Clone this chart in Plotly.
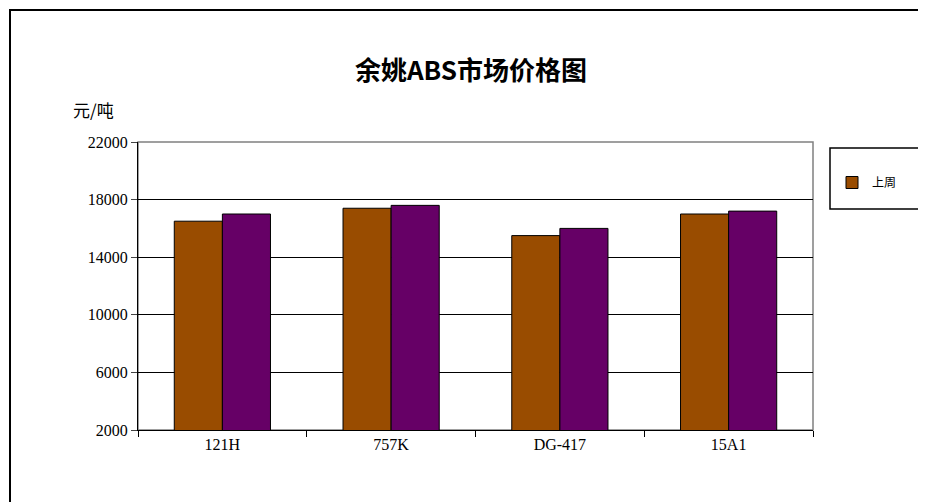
import plotly.graph_objects as go

categories = ["121H", "757K", "DG-417", "15A1"]
last_week = [16500, 17400, 15500, 17000]
this_week = [17000, 17600, 16000, 17200]
series_names = ["上周", "本周"]
tick_vals = [2000, 6000, 10000, 14000, 18000, 22000]
tick_text = ["2000", "6000", "10000", "14000", "18000", "22000"]

fig = go.Figure()
fig.add_bar(x=categories, y=last_week, name=series_names[0], marker=dict(color="#994C00", line=dict(color="black", width=1)))
fig.add_bar(x=categories, y=this_week, name=series_names[1], marker=dict(color="#660066", line=dict(color="black", width=1)))

fig.update_layout(
    width=926, height=502, paper_bgcolor="white", plot_bgcolor="white",
    margin=dict(l=130, r=121, t=134, b=80, autoexpand=False),
    barmode="group", bargap=0.43, bargroupgap=0,
    title=dict(text="余姚ABS市场价格图", x=0.5, xanchor="center", y=0.875, yanchor="middle",
               font=dict(family="Noto Sans CJK SC", size=26, color="black", weight="bold")),
    font=dict(family="Liberation Serif", size=16, color="black"),
    legend=dict(xref="container", yref="container", x=824/926, y=1-160/502,
                xanchor="left", yanchor="top", orientation="h",
                bgcolor="rgba(0,0,0,0)", borderwidth=0,
                font=dict(family="Noto Sans CJK SC", size=12), traceorder="normal",
                itemwidth=30, entrywidthmode="pixels", entrywidth=44),
    showlegend=True,
)
fig.update_xaxes(showline=True, linecolor="black", ticks="outside", automargin=False,
                 tickson="boundaries", ticklen=6, tickcolor="black",
                 tickfont=dict(family="Liberation Serif", size=16))
fig.update_yaxes(range=[2000, 22000], tickvals=tick_vals, ticktext=tick_text, showgrid=True, gridcolor="black",
                 gridwidth=1, showline=True, linecolor="black", ticks="outside", ticklen=6, automargin=False,
                 tickfont=dict(family="Liberation Serif", size=16), zeroline=False)
fig.add_shape(type="rect", xref="paper", yref="paper", x0=0, y0=0, x1=1, y1=1,
              line=dict(color="#808080", width=1.5), layer="below")
fig.add_shape(type="rect", xref="paper", yref="paper", x0=-128/675, y0=-78/288, x1=1+119/675, y1=1+132/288,
              line=dict(color="black", width=2))
# legend box
fig.add_shape(type="rect", xref="paper", yref="paper", x0=(822-130)/675, x1=(913-130)/675,
              y0=(422-201)/288, y1=(422-140)/288, line=dict(color="black", width=1.5))
fig.add_annotation(text="元/吨", xref="paper", yref="paper", x=-45/675, y=1+32/288,
                   showarrow=False, xanchor="center", yanchor="middle",
                   font=dict(family="Noto Sans CJK SC", size=17))
fig.write_html("out.html")
